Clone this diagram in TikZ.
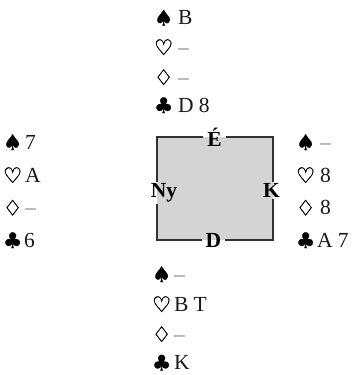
\documentclass[tikz,border=0pt]{standalone}
\usepackage{fontspec}
\setmainfont{Liberation Serif}
\newfontfamily\suitfont{DejaVu Sans}[FakeBold=1.1]
\begin{document}
\begin{tikzpicture}[x=1pt,y=-1pt,
  every node/.style={inner sep=0pt, outer sep=0pt},
  suit/.style={anchor=base west, yshift=-1pt, font=\suitfont\fontsize{21.5}{24}\selectfont},
  card/.style={anchor=base west, font=\fontsize{21.5}{24}\selectfont, text=black!90},
  dashtxt/.style={card, text=black!50},
  seat/.style={anchor=base, inner xsep=4pt, inner ysep=1.5pt, font=\bfseries\fontsize{21.5}{24}\selectfont},
  boxline/.style={line width=1.5pt, black!80},
  boxfill/.style={fill=black!17}]
\useasboundingbox (0,0) rectangle (356,375);
% table
\coordinate (nw) at (157,137);
\coordinate (ne) at (273,137);
\coordinate (sw) at (157,240);
\coordinate (se) at (273,240);
\fill[boxfill] (nw) rectangle (se);
\node[seat] (lN) at (214.5,146.5) {É};
\node[seat] (lS) at (213.5,247) {D};
\node[seat] (lW) at (164,197.5) {Ny};
\node[seat] (lE) at (271.5,197.5) {K};
\draw[boxline] (lN.west |- nw) -- (nw) -- (nw |- lW.north);
\draw[boxline] (nw |- lW.south) -- (sw) -- (lS.west |- sw);
\draw[boxline] (lS.east |- sw) -- (se) -- (se |- lE.south);
\draw[boxline] (se |- lE.north) -- (ne) -- (lN.east |- ne);
% North
\node[suit] (ns) at (154,24.5) {♠};  \node[card] (nst) at (178,24.5) {B};
\node[suit] (nh) at (154,54) {♡};  \node[dashtxt] (nht) at (178,54) {–};
\node[suit] (nd) at (154,84) {♢};  \node[dashtxt] (ndt) at (178,84) {–};
\node[suit] (nc) at (154,112) {♣}; \node[card] (nct) at (178,112) {D 8};
% West
\node[suit] (ws) at (3,149) {♠};  \node[card] (wst) at (25,149) {7};
\node[suit] (wh) at (3,182) {♡};  \node[card] (wht) at (25,182) {A};
\node[suit] (wd) at (3,214.5) {♢};  \node[dashtxt] (wdt) at (25,214.5) {–};
\node[suit] (wc) at (3,247) {♣};  \node[card] (wct) at (24,247) {6};
% East
\node[suit] (es) at (296,149) {♠};  \node[dashtxt] (est) at (320,149) {–};
\node[suit] (eh) at (296,182) {♡};  \node[card] (eht) at (320,182) {8};
\node[suit] (ed) at (296,214.5) {♢};  \node[card] (edt) at (320,214.5) {8};
\node[suit] (ec) at (296,247) {♣};  \node[card] (ect) at (317,247) {A 7};
% South
\node[suit] (ss) at (152,281) {♠};  \node[dashtxt] (sst) at (174,281) {–};
\node[suit] (sh) at (152,311) {♡};  \node[card] (sht) at (174,311) {B T};
\node[suit] (sd) at (152,341) {♢};  \node[dashtxt] (sdt) at (174,341) {–};
\node[suit] (sc) at (152,369.5) {♣};  \node[card] (sct) at (174,369.5) {K};
\end{tikzpicture}
\end{document}
